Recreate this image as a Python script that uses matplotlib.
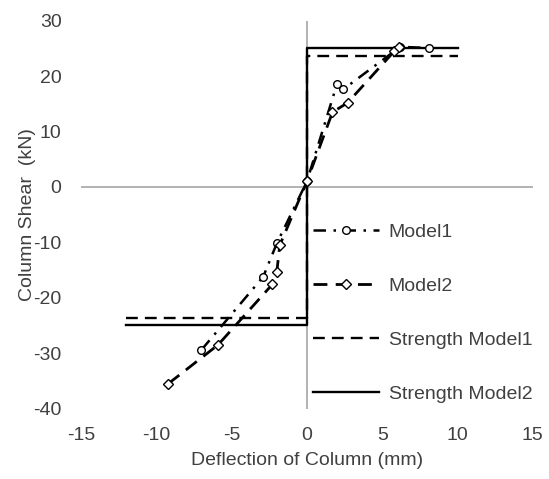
import matplotlib
matplotlib.use('Agg')
import matplotlib.pyplot as plt

plt.rcParams['font.family'] = ['Liberation Sans', 'DejaVu Sans']
plt.rcParams['font.size'] = 14
plt.rcParams['axes.unicode_minus'] = False
TXT = '#404040'

# Model1 (dash-dot, circles)
m1_x = [-7.0, -2.9, -2.0, 0.0, 2.0, 2.4, 6.2, 8.1]
m1_y = [-29.4, -16.2, -10.2, 1.0, 18.6, 17.6, 25.3, 25.1]
# Model2 (dashed, diamonds)
m2_x = [-9.2, -5.9, -2.3, -2.0, -1.8, 0.0, 1.7, 2.7, 5.8, 6.1]
m2_y = [-35.5, -28.5, -17.6, -15.4, -10.5, 1.0, 13.5, 15.2, 24.5, 25.3]
# strength envelopes
s1_x = [-12, 0, 0, 10]
s1_y = [-23.6, -23.6, 23.6, 23.6]
s2_x = [-12, 0, 0, 10]
s2_y = [-25, -25, 25, 25]

xticks = [-15, -10, -5, 0, 5, 10, 15]
yticks = [-40, -30, -20, -10, 0, 10, 20, 30]

fig = plt.figure(figsize=(5.49, 4.79), dpi=100)
ax = fig.add_axes([0.1475, 0.147, 0.823, 0.8096])

ax.axhline(0, color='#a6a6a6', lw=1.2, zorder=1)
ax.axvline(0, color='#a6a6a6', lw=1.2, zorder=1)

ax.plot(m1_x, m1_y, color='black', lw=1.8, dashes=(5, 3, 1, 3),
        marker='o', ms=5.5, mfc='white', mec='black', mew=1, label='Model1', zorder=3)
ax.plot(m2_x, m2_y, color='black', lw=2, dashes=(5, 3),
        marker='D', ms=5, mfc='white', mec='black', mew=1, label='Model2', zorder=3)
ax.plot(s1_x, s1_y, color='black', lw=1.7, dashes=(5, 3), label='Strength Model1', zorder=2)
ax.plot(s2_x, s2_y, color='black', lw=1.7, label='Strength Model2', zorder=2)

ax.set_xlim(-15, 15)
ax.set_ylim(-40, 30)
ax.set_xticks(xticks)
ax.set_yticks(yticks)
ax.tick_params(length=0, colors=TXT, labelsize=14)
ax.tick_params(axis='x', pad=13)
ax.tick_params(axis='y', pad=14)
for s in ax.spines.values():
    s.set_visible(False)

ax.set_xlabel('Deflection of Column (mm)', color=TXT, fontsize=14, labelpad=6)
ax.set_ylabel('Column Shear  (kN)', color=TXT, fontsize=14, labelpad=-2)

leg = ax.legend(loc='upper left', bbox_to_anchor=(313 / 549, 1 - 223 / 479),
                bbox_transform=fig.transFigure, frameon=False, borderpad=0,
                borderaxespad=0, handlelength=3.4, handletextpad=0.5,
                labelspacing=1.87, fontsize=14)
for t in leg.get_texts():
    t.set_color(TXT)

fig.savefig('out.png', dpi=100)
